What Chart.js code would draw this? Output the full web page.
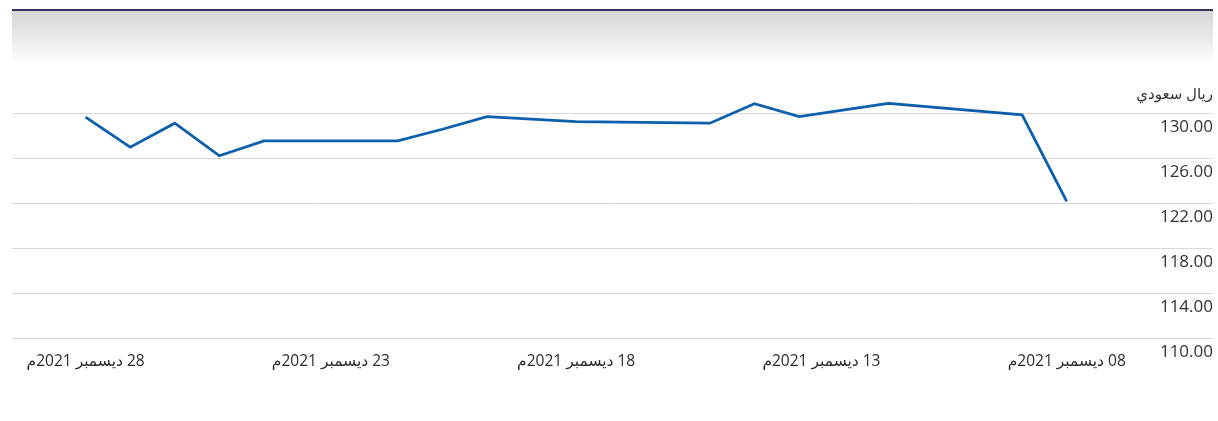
<!DOCTYPE html>
<html>
<head>
<meta charset="utf-8">
<script src="https://cdn.jsdelivr.net/npm/chart.js@4.4.0/dist/chart.umd.min.js"></script>
<style>
    body { margin: 0; background: #fff; }
    #wrap { position: relative; width: 1218px; height: 421px; }
    #band {
        position: absolute; left: 12px; top: 9px; width: 1201px; height: 54px;
        border-top: 2px solid #2e3858;
        background: linear-gradient(to bottom, #d6d6d6, #ffffff);
    }
    canvas { position: absolute; left: 0; top: 0; direction: rtl; }
</style>
</head>
<body>
<div id="wrap">
    <div id="band"></div>
    <canvas id="price-chart" width="1218" height="421"></canvas>
</div>
<script>
// Trading points, index 0 = 08 Dec 2021 (right side), gaps are null
let dayIndex = [0, 1, 2, 3, 4, 5, 6, 7, 8, 9, 10, 11, 12, 13, 14, 15, 16, 17, 18, 19, 20, 21, 22];
let closePrice = [122.18, 129.85, null, null, 130.88, null, 129.70, 130.85, 129.12, null, null, 129.26,
    null, 129.70, 128.58, 127.55, null, null, 127.55, 126.22, 129.12, 126.99, 129.65];

let xTickPos = [0, 5.5, 11, 16.5, 22];
let xTickLabels = ['08 ديسمبر 2021م', '13 ديسمبر 2021م', '18 ديسمبر 2021م', '23 ديسمبر 2021م', '28 ديسمبر 2021م'];
let yTicks = [110, 114, 118, 122, 126, 130];
let unitLabel = 'ريال سعودي';

const fontFamily = "'Open Sans', 'DejaVu Sans', sans-serif";

// unit label above the y axis
const unitPlugin = {
    id: 'unitLabel',
    afterDraw(chart) {
        const ctx = chart.ctx;
        const area = chart.chartArea;
        ctx.save();
        ctx.font = '15px ' + fontFamily;
        ctx.fillStyle = '#333';
        ctx.textAlign = 'right';
        ctx.textBaseline = 'middle';
        ctx.fillText(unitLabel, area.right, area.top - 7);
        ctx.restore();
    }
};

let points = dayIndex.map((d, i) => ({ x: d, y: closePrice[i] }));

let ctx = document.getElementById('price-chart').getContext('2d');
let chart = new Chart(ctx, {
    type: 'line',
    data: {
        datasets: [{
            data: points,
            borderColor: '#0b5fac',
            borderWidth: 2.8,
            pointRadius: 0,
            tension: 0,
            spanGaps: true
        }]
    },
    options: {
        responsive: false,
        animation: false,
        layout: { padding: { left: 12, right: 5, top: 102, bottom: 44 } },
        plugins: { legend: { display: false }, tooltip: { enabled: false } },
        scales: {
            x: {
                type: 'linear',
                reverse: true,
                min: -3.28,
                max: 23.65,
                grid: { display: false },
                border: { display: false },
                afterBuildTicks: (scale) => { scale.ticks = xTickPos.map(v => ({ value: v })); },
                ticks: {
                    autoSkip: false,
                    maxRotation: 0,
                    padding: 6,
                    color: '#2b2b2b',
                    font: { family: fontFamily, size: 15.5 },
                    callback: (value, index) => xTickLabels[index]
                }
            },
            y: {
                position: 'right',
                min: 110,
                max: 131,
                grid: { color: '#d9d9d9', lineWidth: 1, drawTicks: false },
                border: { display: false },
                afterBuildTicks: (scale) => { scale.ticks = yTicks.map(v => ({ value: v })); },
                ticks: {
                    mirror: true,
                    padding: 0,
                    labelOffset: 14,
                    color: '#333',
                    font: { family: fontFamily, size: 17 },
                    callback: (value) => value.toFixed(2)
                }
            }
        }
    },
    plugins: [unitPlugin]
});
</script>
</body>
</html>
